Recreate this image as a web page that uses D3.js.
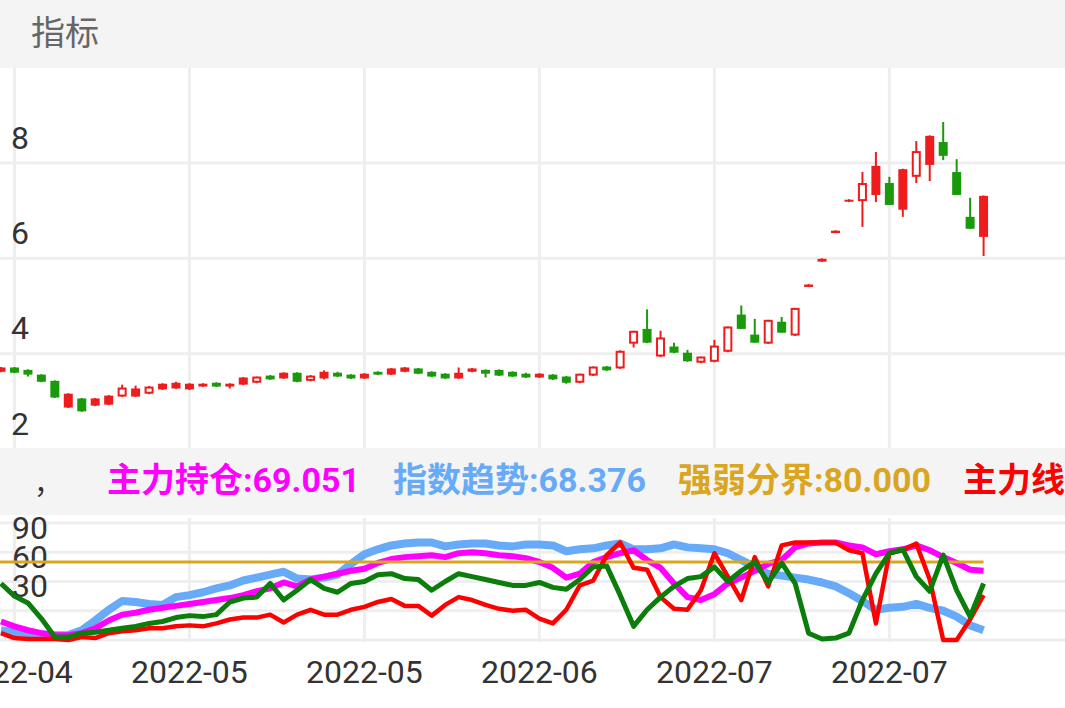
<!DOCTYPE html>
<html><head><meta charset="utf-8">
<script src="https://cdn.jsdelivr.net/npm/d3@7"></script>
<style>body{margin:0;background:#fff}svg{display:block}text{font-family:Roboto,"Noto Sans CJK SC",sans-serif}</style>
</head><body><svg id="c" width="1065" height="708"></svg>
<script>
// candles: [open, high, low, close]
const candles = [
[3.71,3.72,3.61,3.62],[3.71,3.72,3.59,3.60],[3.66,3.67,3.52,3.56],[3.56,3.57,3.40,3.41],[3.43,3.44,3.07,3.08],
[3.16,3.17,2.86,2.87],[3.06,3.07,2.78,2.79],[3.06,3.07,2.90,2.91],[3.12,3.13,2.92,2.93],[3.10,3.35,3.09,3.29],
[3.27,3.33,3.09,3.10],[3.16,3.32,3.15,3.31],[3.37,3.38,3.24,3.25],[3.39,3.41,3.26,3.27],[3.37,3.38,3.24,3.25],
[3.37,3.38,3.30,3.31],[3.39,3.40,3.30,3.31],[3.37,3.38,3.27,3.31],[3.50,3.51,3.34,3.35],[3.39,3.52,3.38,3.52],
[3.54,3.55,3.45,3.46],[3.60,3.61,3.47,3.48],[3.60,3.61,3.40,3.41],[3.43,3.55,3.42,3.54],[3.62,3.65,3.46,3.48],
[3.60,3.62,3.51,3.52],[3.56,3.57,3.47,3.48],[3.58,3.59,3.47,3.48],[3.62,3.63,3.55,3.56],[3.69,3.70,3.55,3.56],
[3.71,3.72,3.61,3.62],[3.69,3.70,3.57,3.58],[3.62,3.63,3.51,3.52],[3.58,3.59,3.47,3.48],[3.60,3.71,3.47,3.48],
[3.69,3.70,3.61,3.62],[3.66,3.67,3.50,3.58],[3.66,3.67,3.53,3.54],[3.62,3.63,3.51,3.52],[3.58,3.60,3.49,3.50],
[3.58,3.59,3.49,3.50],[3.56,3.57,3.45,3.46],[3.52,3.53,3.37,3.39],[3.39,3.58,3.38,3.58],[3.54,3.73,3.53,3.73],
[3.73,3.74,3.64,3.65],[3.69,4.07,3.68,4.06],[4.21,4.48,4.13,4.48],[4.52,4.93,4.22,4.23],[3.94,4.48,3.93,4.34],
[4.15,4.23,4.01,4.02],[4.02,4.08,3.83,3.84],[3.81,3.94,3.80,3.94],[3.83,4.29,3.82,4.17],[4.04,4.57,4.03,4.57],
[4.82,5.01,4.52,4.52],[4.40,4.73,4.23,4.23],[4.21,4.71,4.20,4.71],[4.67,4.77,4.44,4.44],[4.38,4.96,4.37,4.96],
[5.45,5.46,5.40,5.40],[5.99,6.00,5.93,5.93],[6.58,6.59,6.53,6.53],[7.23,7.24,7.18,7.19],[7.20,7.81,6.66,7.58],
[7.94,8.23,7.18,7.33],[7.58,7.71,7.12,7.12],[7.87,7.88,6.87,7.02],[7.71,8.46,7.58,8.25],[8.57,8.58,7.62,7.96],
[8.44,8.86,8.06,8.15],[7.81,8.08,7.33,7.33],[6.87,7.27,6.62,6.62],[7.31,7.32,6.05,6.45]];
// u = hollow red, r = solid red, g = solid green
const kinds = "rggggrgrru" + "rurrrrgrru" + "grgurggrgr" + "rgggrrgggg" + "rgguuguugu" + "gguuuggugu" + "rrrrurgrur" + "gggr";
const priceTicks = [8,6,4,2];
const dateLabels = ["2022-04","2022-05","2022-05","2022-06","2022-07","2022-07"];
const labelIdx = [1,14,27,40,53,66];

const zlcc = [19,14,10,7,5,5,7,12,20,26,28,31,33,35,37,39,41,43,46,50,53,59,55,62,65,68,71,73,79,83,85,86,87,85,89,90,89,87,86,84,80,74,64,68,80,85,89,92,82,74,58,44,41,47,58,64,71,78,82,95,99,100,100,97,95,88,91,93,97,92,85,79,72,71];
const zsqs = [10,8,7,6,5,5,10,20,31,40,39,37,36,44,46,49,53,56,61,64,67,70,63,62,64,67,78,88,93,97,99,100,100,96,98,99,99,97,96,98,98,97,91,93,94,97,99,93,93,94,98,95,94,93,89,82,75,68,66,64,62,59,55,48,40,31,33,34,37,33,30,24,15,10];
const redLine = [7,2,1,1,1,0,3,2,7,9,10,12,12,14,15,14,17,21,23,23,26,18,26,31,26,26,31,34,39,42,35,35,25,36,44,41,36,32,30,31,22,17,31,56,61,87,100,74,72,44,32,31,51,89,65,41,85,55,97,100,100,100,100,92,89,17,89,92,99,62,0,0,21,46];
const greenLine = [58,45,38,22,3,3,7,8,10,12,14,17,19,23,25,24,26,39,43,44,58,41,51,62,53,49,58,60,67,68,63,62,51,60,68,65,62,59,56,56,59,54,52,62,75,76,46,14,31,44,55,63,65,75,60,71,80,59,79,58,7,1,2,7,41,68,89,93,65,50,87,51,24,58];
const boundary = 80;
const lowerTicks = [90,60,30];
const legend = [["主力持仓:69.051","#ff00ff",107],["指数趋势:68.376","#66aaf8",393],["强弱分界:80.000","#daa520",678],["主力线","#ff0000",963]];

const svg = d3.select("#c");
const N = candles.length;
const x = d3.scaleLinear().domain([0,N-1]).range([1,1+13.46*(N-1)]);
const y = d3.scaleLinear().domain([2,8]).range([449,163]);
const y2 = d3.scaleLinear().domain([0,120]).range([640,523]);

svg.append("rect").attr("width",1065).attr("height",68).attr("fill","#f4f4f4");
svg.append("text").attr("x",31).attr("y",45).attr("font-size",34).attr("fill","#666").text("指标");
svg.append("rect").attr("y",448).attr("width",1065).attr("height",67).attr("fill","#f4f4f4");

const grid = "#eeeeee";
labelIdx.forEach(i=>{
  svg.append("line").attr("x1",x(i)).attr("x2",x(i)).attr("y1",68).attr("y2",448).attr("stroke",grid).attr("stroke-width",3);
  svg.append("line").attr("x1",x(i)).attr("x2",x(i)).attr("y1",518).attr("y2",642).attr("stroke",grid).attr("stroke-width",3);
});
[8,6,4].forEach(v=>svg.append("line").attr("x1",0).attr("x2",1065).attr("y1",y(v)).attr("y2",y(v)).attr("stroke",grid).attr("stroke-width",3));
[0,30,60,90,120].forEach(v=>svg.append("line").attr("x1",0).attr("x2",1065).attr("y1",y2(v)).attr("y2",y2(v)).attr("stroke",grid).attr("stroke-width",3));

priceTicks.forEach(v=>svg.append("text").attr("x",11).attr("y",y(v)-26).attr("dy","0.36em").attr("font-size",32).attr("fill","#333").text(v));

const RED="#ee1c1c", GREEN="#1a9a0a";
candles.forEach((d,i)=>{
  const k = kinds[i]||"r";
  const col = k==="g"?GREEN:RED;
  const [o,h,l,c]=d;
  const top=y(Math.max(o,c)), bot=y(Math.min(o,c));
  const cx=x(i), w=9;
  svg.append("line").attr("x1",cx).attr("x2",cx).attr("y1",y(h)).attr("y2",y(l)).attr("stroke",col).attr("stroke-width",2);
  if(k==="u"){
    svg.append("rect").attr("x",cx-w/2+1).attr("y",top+1).attr("width",w-2).attr("height",Math.max(bot-top-2,1))
      .attr("fill","#fff").attr("stroke",col).attr("stroke-width",2);
  } else {
    svg.append("rect").attr("x",cx-w/2).attr("y",top).attr("width",w).attr("height",Math.max(bot-top,2)).attr("fill",col);
  }
});

svg.append("text").attr("x",34).attr("y",494).attr("font-size",28).attr("fill","#333").text("，");
legend.forEach(([t,c,px])=>svg.append("text").attr("x",px).attr("y",492).attr("font-size",34).attr("font-weight","bold").attr("fill",c).text(t));

lowerTicks.forEach(v=>svg.append("text").attr("x",12).attr("y",y2(v)-25).attr("dy","0.36em").attr("font-size",32).attr("fill","#333").text(v));

const line = d3.line().x((d,i)=>x(i)).y(d=>y2(d));
svg.append("path").datum(zsqs).attr("d",line).attr("fill","none").attr("stroke","#66aaf8").attr("stroke-width",8).attr("stroke-linejoin","round");
svg.append("path").datum(zlcc).attr("d",line).attr("fill","none").attr("stroke","#ff00ff").attr("stroke-width",6).attr("stroke-linejoin","round");
svg.append("line").attr("x1",0).attr("x2",x(N-1)).attr("y1",y2(boundary)).attr("y2",y2(boundary)).attr("stroke","#daa520").attr("stroke-width",3);
svg.append("path").datum(redLine).attr("d",line).attr("fill","none").attr("stroke","#ff0000").attr("stroke-width",4.5).attr("stroke-linejoin","round");
svg.append("path").datum(greenLine).attr("d",line).attr("fill","none").attr("stroke","#0a7d0a").attr("stroke-width",5).attr("stroke-linejoin","round");

dateLabels.forEach((t,j)=>svg.append("text").attr("x",x(labelIdx[j])).attr("y",683).attr("text-anchor","middle").attr("font-size",32).attr("fill","#333").text(t));
</script></body></html>
